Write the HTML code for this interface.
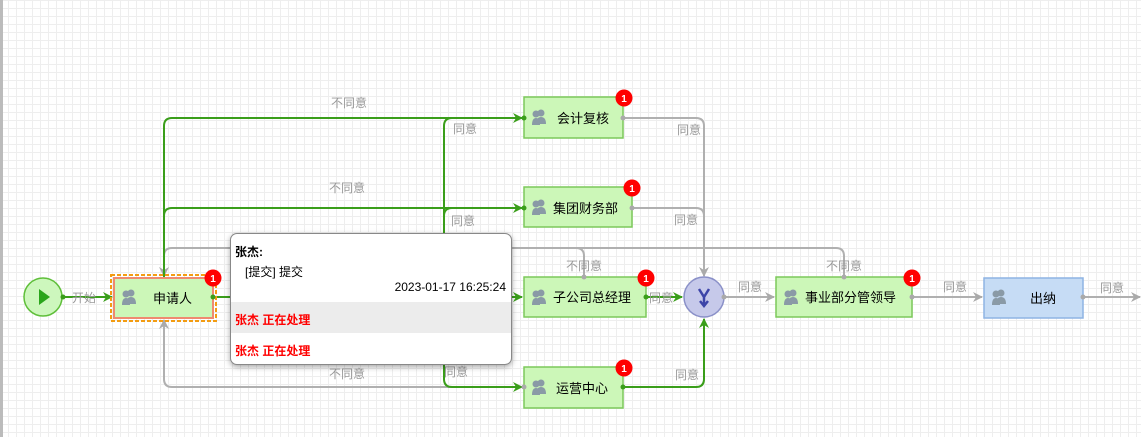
<!DOCTYPE html>
<html><head><meta charset="utf-8"><style>
html,body{margin:0;padding:0}
body{width:1141px;height:437px;position:relative;overflow:hidden;background-color:#fff;
background-image:linear-gradient(to right,#eeeeee 1px,transparent 1px),linear-gradient(to bottom,#eeeeee 1px,transparent 1px);background-size:8px 8px;
font-family:"Liberation Sans","Noto Sans CJK SC",sans-serif}
svg{position:absolute;left:0;top:0}
.pop{position:absolute;left:230px;top:233px;width:280px;height:130px;background:#fff;border:1px solid #888;border-radius:7px;box-shadow:0 2px 6px rgba(0,0,0,.35);font-size:12px;overflow:hidden}
</style></head><body>
<div style="position:absolute;left:0;top:0;width:3px;height:437px;background:#bbb"></div>
<svg width="1141" height="437" font-family="Liberation Sans, Noto Sans CJK SC, sans-serif">
<defs>
<marker id="ag" markerWidth="10" markerHeight="10" refX="9" refY="5" orient="auto" markerUnits="userSpaceOnUse"><path d="M0,0 L10,5 L0,10 L3,5z" fill="#3a9e1a"/></marker>
<marker id="ay" markerWidth="10" markerHeight="10" refX="9" refY="5" orient="auto" markerUnits="userSpaceOnUse"><path d="M0,0 L10,5 L0,10 L3,5z" fill="#aaa"/></marker>
<marker id="ays" markerWidth="10" markerHeight="10" refX="9" refY="5" orient="auto-start-reverse" markerUnits="userSpaceOnUse"><path d="M0,0 L10,5 L0,10 L3,5z" fill="#aaa"/></marker>
</defs>
<g fill="none" stroke-width="2">
<path d="M164,276 V256 Q164,248 172,248 H576 Q584,248 584,256 V277" stroke="#b0b0b0" marker-start="url(#ays)"/>
<path d="M576,248 H836 Q844,248 844,256 V277" stroke="#b0b0b0"/>
<path d="M164,320 V379 Q164,387 172,387 H522" stroke="#b0b0b0" marker-start="url(#ays)"/>
<path d="M623,118 H696 Q704,118 704,126 V276" stroke="#b0b0b0" marker-end="url(#ay)"/>
<path d="M632,208 H696 Q704,208 704,216 V230" stroke="#b0b0b0"/>
<path d="M724,297 H774" stroke="#b0b0b0" marker-end="url(#ay)"/>
<path d="M912,297 H982" stroke="#b0b0b0" marker-end="url(#ay)"/>
<path d="M1083,297 H1140" stroke="#b0b0b0" marker-end="url(#ay)"/>
<path d="M62,297 H112" stroke="#3a9e1a" marker-end="url(#ag)"/>
<path d="M164,278 V126 Q164,118 172,118 H522" stroke="#3a9e1a" marker-end="url(#ag)"/>
<path d="M164,216 Q164,208 172,208 H522" stroke="#3a9e1a" marker-end="url(#ag)"/>
<path d="M452,118 Q444,118 444,126 V379 Q444,387 452,387 H522" stroke="#3a9e1a" marker-end="url(#ag)"/>
<path d="M452,208 Q444,208 444,216" stroke="#3a9e1a"/>
<path d="M213,297 H522" stroke="#3a9e1a" marker-end="url(#ag)"/>
<path d="M646,297 H682" stroke="#3a9e1a" marker-end="url(#ag)"/>
<path d="M623,387 H696 Q704,387 704,379 V319" stroke="#3a9e1a" marker-end="url(#ag)"/>
</g>
<g font-size="12" fill="#999">
<text x="331" y="107">不同意</text><text x="329" y="192">不同意</text><text x="329" y="378">不同意</text>
<text x="453" y="133">同意</text><text x="451" y="225">同意</text><text x="444" y="376">同意</text>
<text x="566" y="270">不同意</text><text x="826" y="270">不同意</text>
<text x="677" y="134">同意</text><text x="674" y="224">同意</text><text x="649" y="302">同意</text>
<text x="738" y="291">同意</text><text x="675" y="379">同意</text><text x="943" y="291">同意</text><text x="1100" y="292">同意</text>
<text x="72" y="302">开始</text>
</g>
<circle cx="43" cy="297" r="19" fill="#cdf7bd" stroke="#5fbf3a" stroke-width="1.5"/>
<path d="M39,289 L50,297 L39,305z" fill="#2aa51b"/>
<circle cx="63" cy="297" r="2.5" fill="#3a9e1a"/>
<circle cx="704" cy="297" r="20" fill="#c6c9ea" stroke="#8a90c8" stroke-width="1.5"/>
<path d="M699,289 L704,297 L709,289 M704,297 V305 M700,301 L704,306 L708,301" stroke="#3c44a8" stroke-width="2.5" fill="none"/>
<g font-size="13" fill="#000">
<rect x="111" y="275" width="105" height="46" fill="none" stroke="#f39c12" stroke-width="2" stroke-dasharray="4,2"/>
<rect x="114" y="278" width="99" height="40" fill="#ccf7b8" stroke="#ef8a70" stroke-width="2"/>
<text x="153" y="303">申请人</text>
<rect x="524" y="97" width="99" height="41" fill="#ccf7b8" stroke="#7cc95a" stroke-width="1.5"/><text x="557" y="123">会计复核</text>
<rect x="524" y="187" width="108" height="40" fill="#ccf7b8" stroke="#7cc95a" stroke-width="1.5"/><text x="553" y="213">集团财务部</text>
<rect x="524" y="277" width="122" height="40" fill="#ccf7b8" stroke="#7cc95a" stroke-width="1.5"/><text x="553" y="302">子公司总经理</text>
<rect x="524" y="367" width="99" height="41" fill="#ccf7b8" stroke="#7cc95a" stroke-width="1.5"/><text x="556" y="393">运营中心</text>
<rect x="776" y="277" width="136" height="40" fill="#ccf7b8" stroke="#7cc95a" stroke-width="1.5"/><text x="805" y="302">事业部分管领导</text>
<rect x="984" y="278" width="99" height="40" fill="#c6dcf5" stroke="#8eb4e3" stroke-width="1.5"/><text x="1030" y="303">出纳</text>
</g>
<g fill="#8a9aa6">
<g transform="translate(122,290)"><circle cx="9" cy="3" r="3.5"/><path d="M4,14 Q4,7 9,7 Q14,7 14,14z"/><circle cx="4" cy="4" r="3.5"/><path d="M0,15 Q0,8 4,8 Q8,8 8,15z"/></g>
<g transform="translate(532,110)"><circle cx="9" cy="3" r="3.5"/><path d="M4,14 Q4,7 9,7 Q14,7 14,14z"/><circle cx="4" cy="4" r="3.5"/><path d="M0,15 Q0,8 4,8 Q8,8 8,15z"/></g>
<g transform="translate(532,200)"><circle cx="9" cy="3" r="3.5"/><path d="M4,14 Q4,7 9,7 Q14,7 14,14z"/><circle cx="4" cy="4" r="3.5"/><path d="M0,15 Q0,8 4,8 Q8,8 8,15z"/></g>
<g transform="translate(532,290)"><circle cx="9" cy="3" r="3.5"/><path d="M4,14 Q4,7 9,7 Q14,7 14,14z"/><circle cx="4" cy="4" r="3.5"/><path d="M0,15 Q0,8 4,8 Q8,8 8,15z"/></g>
<g transform="translate(532,380)"><circle cx="9" cy="3" r="3.5"/><path d="M4,14 Q4,7 9,7 Q14,7 14,14z"/><circle cx="4" cy="4" r="3.5"/><path d="M0,15 Q0,8 4,8 Q8,8 8,15z"/></g>
<g transform="translate(784,290)"><circle cx="9" cy="3" r="3.5"/><path d="M4,14 Q4,7 9,7 Q14,7 14,14z"/><circle cx="4" cy="4" r="3.5"/><path d="M0,15 Q0,8 4,8 Q8,8 8,15z"/></g>
<g transform="translate(992,290)"><circle cx="9" cy="3" r="3.5"/><path d="M4,14 Q4,7 9,7 Q14,7 14,14z"/><circle cx="4" cy="4" r="3.5"/><path d="M0,15 Q0,8 4,8 Q8,8 8,15z"/></g>
</g>
<g fill="#3a9e1a"><circle cx="213" cy="297" r="2.5"/><circle cx="524" cy="118" r="2.5"/><circle cx="524" cy="208" r="2.5"/><circle cx="646" cy="297" r="2.5"/><circle cx="623" cy="387" r="2.5"/></g>
<g fill="#aaa"><circle cx="623" cy="118" r="2.5"/><circle cx="632" cy="208" r="2.5"/><circle cx="584" cy="277" r="2.5"/><circle cx="844" cy="277" r="2.5"/><circle cx="724" cy="297" r="2.5"/><circle cx="912" cy="297" r="2.5"/><circle cx="1083" cy="297" r="2.5"/><circle cx="524" cy="387" r="2.5"/></g>
<g font-size="10" font-weight="bold" fill="#fff" text-anchor="middle">
<circle cx="213" cy="278" r="8.5" fill="#f00"/><text x="213" y="282">1</text>
<circle cx="624" cy="98" r="8.5" fill="#f00"/><text x="624" y="102">1</text>
<circle cx="632" cy="188" r="8.5" fill="#f00"/><text x="632" y="192">1</text>
<circle cx="646" cy="278" r="8.5" fill="#f00"/><text x="646" y="282">1</text>
<circle cx="624" cy="368" r="8.5" fill="#f00"/><text x="624" y="372">1</text>
<circle cx="912" cy="278" r="8.5" fill="#f00"/><text x="912" y="282">1</text>
</g>
</svg>
<div class="pop">
<div style="position:absolute;left:4px;top:9px;font-weight:bold">张杰:</div>
<div style="position:absolute;left:14px;top:29px">[提交] 提交</div>
<div style="position:absolute;right:5px;top:46px">2023-01-17 16:25:24</div>
<div style="position:absolute;left:0;top:68px;width:100%;height:31px;background:#ececec"></div>
<div style="position:absolute;left:4px;top:77px;color:#f00;font-weight:bold">张杰 正在处理</div>
<div style="position:absolute;left:4px;top:108px;color:#f00;font-weight:bold">张杰 正在处理</div>
</div>
</body></html>
